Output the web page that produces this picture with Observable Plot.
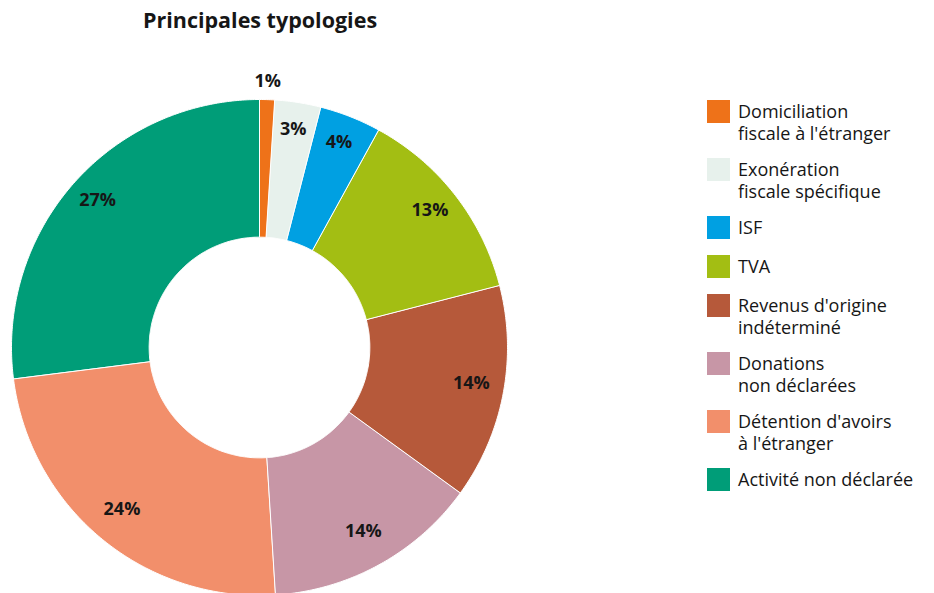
<!DOCTYPE html>
<html>
<head>
<meta charset="utf-8">
<script src="https://cdn.jsdelivr.net/npm/d3@7"></script>
<script src="https://cdn.jsdelivr.net/npm/@observablehq/plot@0.6"></script>
<style>
  html, body { margin: 0; padding: 0; background: #fff; }
  #page { position: relative; width: 934px; height: 593px; overflow: hidden; font-family: "Open Sans", sans-serif; color: #161616; }
  #title { position: absolute; left: 0; top: 5px; width: 520px; text-align: center; font-weight: 700; font-size: 21.5px; }
  #chart { position: absolute; left: 0; top: 0; }
  #legend { position: absolute; left: 707px; top: 100px; }
  .item { display: flex; align-items: flex-start; margin-bottom: 14px; }
  .item.one { margin-bottom: 16px; }
  .sw { width: 23px; height: 23px; flex: none; }
  .lab { margin-left: 8px; font-size: 18px; line-height: 22px; white-space: nowrap; }
</style>
</head>
<body>
<div id="page">
  <div id="chart"></div>
  <div id="title">Principales typologies</div>
  <div id="legend"></div>
</div>
<script>
const categories = [
  "Domiciliation fiscale à l'étranger",
  "Exonération fiscale spécifique",
  "ISF",
  "TVA",
  "Revenus d'origine indéterminé",
  "Donations non déclarées",
  "Détention d'avoirs à l'étranger",
  "Activité non déclarée"
];
const values = [1, 3, 4, 13, 14, 14, 24, 27];
const colors = ["#EE7219", "#E7F1EC", "#00A0E2", "#A3BE13", "#B6593A", "#C796A6", "#F28F6B", "#009D78"];
const legendLines = [
  ["Domiciliation", "fiscale à l'étranger"],
  ["Exonération", "fiscale spécifique"],
  ["ISF"],
  ["TVA"],
  ["Revenus d'origine", "indéterminé"],
  ["Donations", "non déclarées"],
  ["Détention d'avoirs", "à l'étranger"],
  ["Activité non déclarée"]
];

const table = categories.map((c, i) => ({category: c, value: values[i]}));
const arcs = d3.pie().sort(null).value(d => d.value)(table);

const R0 = 0.445, R1 = 1;
const polys = [];
for (const a of arcs) {
  const n = Math.max(4, Math.ceil((a.endAngle - a.startAngle) / 0.01));
  for (let k = 0; k <= n; k++) {
    const t = a.startAngle + (a.endAngle - a.startAngle) * k / n;
    polys.push({category: a.data.category, x: R1 * Math.sin(t), y: R1 * Math.cos(t)});
  }
  for (let k = n; k >= 0; k--) {
    const t = a.startAngle + (a.endAngle - a.startAngle) * k / n;
    polys.push({category: a.data.category, x: R0 * Math.sin(t), y: R0 * Math.cos(t)});
  }
}
const labels = arcs.map(a => {
  const m = (a.startAngle + a.endAngle) / 2;
  const r = a.data.value < 2 ? 1.055 : 0.87;
  return {text: a.data.value + "%", x: r * Math.sin(m), y: r * Math.cos(m)};
});

const cx = 259, cy = 347, rad = 248;
const chart = Plot.plot({
  width: 934,
  height: 593,
  margin: 0,
  x: {domain: [-1, 1], range: [cx - rad, cx + rad], axis: null},
  y: {domain: [-1, 1], range: [cy + rad, cy - rad], axis: null},
  color: {domain: categories, range: colors},
  style: {fontFamily: "'Open Sans', sans-serif", background: "transparent"},
  marks: [
    Plot.line(polys, {x: "x", y: "y", z: "category", fill: "category", stroke: "white", strokeWidth: 1, curve: "linear-closed"}),
    Plot.text(labels, {x: "x", y: "y", text: "text", dy: -5, fill: "#161616", fontWeight: 700, fontSize: 18})
  ]
});
document.getElementById("chart").appendChild(chart);

const lg = document.getElementById("legend");
categories.forEach((c, i) => {
  const it = document.createElement("div");
  it.className = "item" + (legendLines[i].length === 1 ? " one" : "");
  const sw = document.createElement("div");
  sw.className = "sw";
  sw.style.background = colors[i];
  const lab = document.createElement("div");
  lab.className = "lab";
  lab.innerHTML = legendLines[i].join("<br>");
  it.appendChild(sw); it.appendChild(lab);
  lg.appendChild(it);
});
</script>
</body>
</html>
